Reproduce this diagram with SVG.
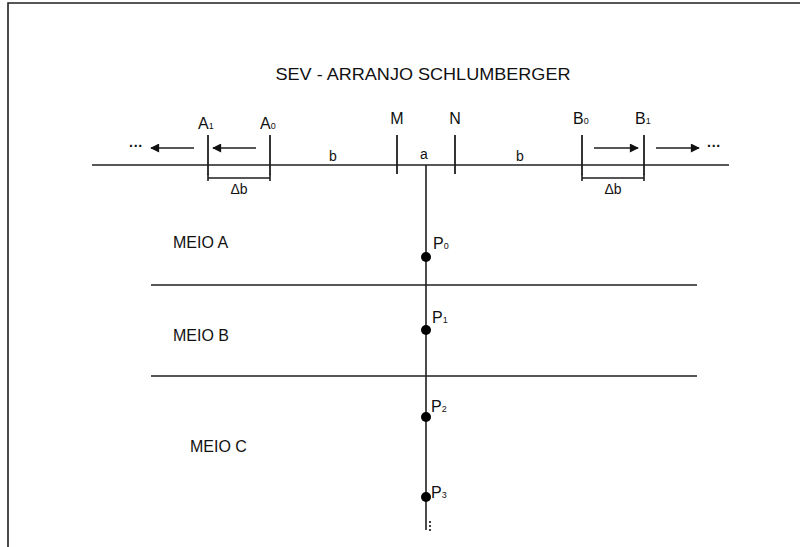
<svg xmlns="http://www.w3.org/2000/svg" width="800" height="547" viewBox="0 0 800 547">
<defs>
<style>
.ln{stroke:#1f1f1f;stroke-width:1.6;fill:none}
.tk{stroke:#1f1f1f;stroke-width:1.8;fill:none}
.t{font-family:"Liberation Sans",Arial,sans-serif;fill:#111}
.lab{font-size:16px}
.sm{font-size:14px}
.sub{font-size:9px}
.meio{font-size:16px}
</style>
<marker id="ah" viewBox="0 0 10 10" refX="9" refY="5" markerWidth="11" markerHeight="9" markerUnits="userSpaceOnUse" orient="auto">
<path d="M0,0 L10,5 L0,10 z" fill="#111"/>
</marker>
</defs>
<rect width="800" height="547" fill="#fff"/>
<path class="ln" d="M8,547 V3 H800" stroke-width="2"/>
<text class="t" x="423" y="80" font-size="17" text-anchor="middle" textLength="295" lengthAdjust="spacingAndGlyphs">SEV - ARRANJO SCHLUMBERGER</text>

<g id="connectors">
<line class="ln" x1="92" y1="165" x2="729" y2="165"/>
<line class="ln" x1="151" y1="285" x2="697" y2="285"/>
<line class="ln" x1="151" y1="376" x2="697" y2="376"/>
<line class="ln" x1="426" y1="165" x2="426" y2="530"/>
<line class="ln" x1="194" y1="148" x2="151" y2="148" marker-end="url(#ah)"/>
<line class="ln" x1="256" y1="148" x2="213" y2="148" marker-end="url(#ah)"/>
<line class="ln" x1="594" y1="148" x2="638" y2="148" marker-end="url(#ah)"/>
<line class="ln" x1="656" y1="148" x2="699" y2="148" marker-end="url(#ah)"/>
<path class="ln" stroke-width="1.2" d="M208,178 H270 M208,174 V181 M270,174 V181"/>
<path class="ln" stroke-width="1.2" d="M582,178 H644 M582,174 V181 M644,174 V181"/>
</g>

<g id="A1"><line class="tk" x1="208" y1="135" x2="208" y2="175"/><text class="t lab" x="198" y="129">A<tspan class="sub">1</tspan></text></g>
<g id="A0"><line class="tk" x1="270" y1="135" x2="270" y2="175"/><text class="t lab" x="260" y="129">A<tspan class="sub">0</tspan></text></g>
<g id="M"><line class="tk" x1="397" y1="135" x2="397" y2="174"/><text class="t lab" x="397" y="124" text-anchor="middle">M</text></g>
<g id="N"><line class="tk" x1="455" y1="135" x2="455" y2="174"/><text class="t lab" x="455" y="124" text-anchor="middle">N</text></g>
<g id="B0"><line class="tk" x1="582" y1="135" x2="582" y2="175"/><text class="t lab" x="573" y="124">B<tspan class="sub">0</tspan></text></g>
<g id="B1"><line class="tk" x1="644" y1="135" x2="644" y2="175"/><text class="t lab" x="635" y="124">B<tspan class="sub">1</tspan></text></g>

<g id="labels">
<text class="t sm" x="136" y="151" text-anchor="middle" font-weight="bold">···</text>
<text class="t sm" x="714" y="151" text-anchor="middle" font-weight="bold">···</text>
<text class="t sm" x="333" y="161" text-anchor="middle">b</text>
<text class="t sm" x="424" y="159" text-anchor="middle">a</text>
<text class="t sm" x="520" y="161" text-anchor="middle">b</text>
<text class="t sm" x="239" y="194" text-anchor="middle">Δb</text>
<text class="t sm" x="613" y="194" text-anchor="middle">Δb</text>
</g>

<g id="meioA"><text class="t meio" x="173" y="248">MEIO A</text></g>
<g id="meioB"><text class="t meio" x="173" y="341">MEIO B</text></g>
<g id="meioC"><text class="t meio" x="190" y="452">MEIO C</text></g>

<g id="P0"><circle cx="426" cy="257" r="5" fill="#000"/><text class="t lab" x="433" y="249">P<tspan class="sub">0</tspan></text></g>
<g id="P1"><circle cx="426" cy="330" r="5" fill="#000"/><text class="t lab" x="432" y="323">P<tspan class="sub">1</tspan></text></g>
<g id="P2"><circle cx="426" cy="417" r="5" fill="#000"/><text class="t lab" x="431" y="412">P<tspan class="sub">2</tspan></text></g>
<g id="P3"><circle cx="426" cy="497" r="5" fill="#000"/><text class="t lab" x="431" y="498">P<tspan class="sub">3</tspan></text></g>
<g id="more"><circle cx="430" cy="522" r="1.1" fill="#111"/><circle cx="430" cy="526" r="1.1" fill="#111"/><circle cx="430" cy="530" r="1.1" fill="#111"/></g>
</svg>
